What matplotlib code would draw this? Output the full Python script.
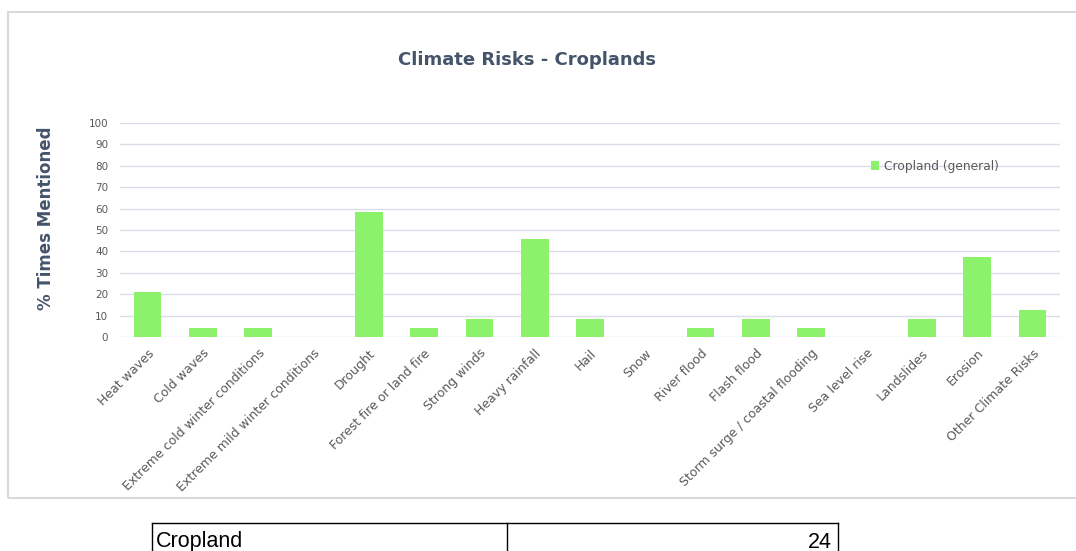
import matplotlib.pyplot as plt
from matplotlib.patches import Rectangle
from matplotlib.lines import Line2D
import numpy as np

# values (n = 24 croplands)
risks = ['Heat waves', 'Cold waves', 'Extreme cold winter conditions',
         'Extreme mild winter conditions', 'Drought', 'Forest fire or land fire',
         'Strong winds', 'Heavy rainfall', 'Hail', 'Snow', 'River flood',
         'Flash flood', 'Storm surge / coastal flooding', 'Sea level rise',
         'Landslides', 'Erosion', 'Other Climate Risks']
cropland_general = [20.8, 4.2, 4.2, 0, 58.3, 4.2, 8.3, 45.8, 8.3, 0, 4.2,
                    8.3, 4.2, 0, 8.3, 37.5, 12.5]
table_label = 'Cropland'
table_value = '24'

W, H = 1076, 551
fig = plt.figure(figsize=(W / 100, H / 100), dpi=100)

def fx(px):
    return px / W

def fy(py):
    return 1 - py / H

txt_col = '#595959'
title_col = '#44546A'
bar_col = '#8CF26C'

# chart frame
fig.add_artist(Rectangle((fx(8), fy(498)), fx(1090) - fx(8), fy(12) - fy(498),
                         transform=fig.transFigure, fill=False,
                         edgecolor='#D9D9D9', linewidth=1.5))

ax = fig.add_axes([fx(120), fy(337), fx(1060) - fx(120), fy(123) - fy(337)])
x = np.arange(len(risks))
ax.bar(x, cropland_general, width=0.5, color=bar_col, label='Cropland (general)', zorder=3)
ax.set_xlim(-0.5, len(risks) - 0.5)
ax.set_ylim(0, 100)
ax.set_yticks(np.arange(0, 101, 10))
ax.yaxis.grid(True, color='#D9DEE8', linewidth=1, zorder=0)
for s in ax.spines.values():
    s.set_visible(False)
ax.tick_params(axis='both', length=0, labelsize=7.5, labelcolor=txt_col)
ax.tick_params(axis='y', pad=8.5)
ax.set_xticks(x)
ax.set_xticklabels(risks, rotation=45, ha='right', rotation_mode='anchor',
                   fontsize=9, color=txt_col)
ax.tick_params(axis='x', pad=7)

fig.text(fx(527), fy(60), 'Climate Risks - Croplands', ha='center', va='center',
         fontsize=13, fontweight='bold', color=title_col)
fig.text(fx(46), fy(218), '% Times Mentioned', ha='center', va='center',
         rotation=90, fontsize=12, fontweight='bold', color=title_col)

leg = ax.legend(loc='upper left', bbox_to_anchor=((866 - 120) / 940, (337 - 155) / 214),
                frameon=False, fontsize=8.8, handlelength=0.7, handleheight=0.7,
                handletextpad=0.4, borderaxespad=0)
for t in leg.get_texts():
    t.set_color(txt_col)

# table below the chart
lc = 'black'
fig.add_artist(Line2D([fx(152), fx(838)], [fy(523), fy(523)], color=lc, linewidth=1))
for px in (152, 507, 838):
    fig.add_artist(Line2D([fx(px), fx(px)], [fy(523), fy(560)], color=lc, linewidth=1))
fig.text(fx(156), fy(542), table_label, ha='left', va='center', fontsize=15.5,
         family='Liberation Sans')
fig.text(fx(832), fy(542), table_value, ha='right', va='center', fontsize=15.5,
         family='Liberation Sans')

fig.savefig('out.png', dpi=100)
